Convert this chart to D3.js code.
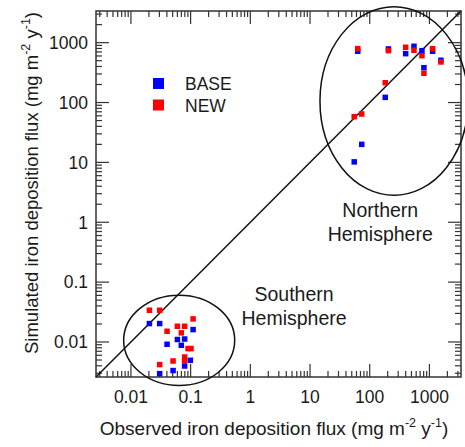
<!DOCTYPE html>
<html>
<head>
<meta charset="utf-8">
<script src="https://cdnjs.cloudflare.com/ajax/libs/d3/7.8.5/d3.min.js"></script>
<style>
body { margin: 0; background: #fff; }
text { font-family: "Liberation Sans", Arial, sans-serif; fill: #1a1a1a; }
</style>
</head>
<body>
<div id="chart"></div>
<script>
var w = 465;
var h = 447;

// observed vs simulated iron deposition (mg m-2 y-1)
var baseObs = [63, 206, 400, 551, 750, 1130, 1556, 809, 182, 55, 73.5,
  0.0204, 0.0303, 0.0403, 0.060, 0.0794, 0.0698, 0.11, 0.099, 0.0794, 0.0508, 0.0303];
var baseSim = [718, 785, 655, 871, 735, 718, 508, 382, 122, 10.2, 20,
  0.0203, 0.0203, 0.00916, 0.011, 0.0112, 0.0088, 0.0161, 0.00494, 0.00397, 0.00333, 0.00296];
var newObs = [63, 206, 400, 551, 750, 1130, 1556, 809, 182, 55, 73.5,
  0.0204, 0.0303, 0.0403, 0.060, 0.0794, 0.0698, 0.11, 0.0906, 0.1016, 0.0794, 0.0794, 0.0508, 0.0303];
var newSim = [794, 735, 838, 746, 606, 794, 476, 308, 214, 58, 64.3,
  0.0339, 0.0339, 0.0151, 0.0183, 0.0183, 0.0142, 0.0243, 0.00776, 0.00776, 0.00561, 0.00494, 0.00481, 0.00419];

var tickValues = [0.01, 0.1, 1, 10, 100, 1000];
var tickLabels = ["0.01", "0.1", "1", "10", "100", "1000"];
var seriesNames = ["BASE", "NEW"];
var regionNames = [["Northern", "Hemisphere"], ["Southern", "Hemisphere"]];

var svg = d3.select("#chart")
  .append("svg")
  .attr("width", w)
  .attr("height", h);

var x = d3.scaleLog().domain([0.0026, 3380]).range([96, 461]);
var y = d3.scaleLog().domain([0.0026, 3380]).range([377, 11]);

// minor + major ticks
var allTicks = [];
for (var e = -3; e <= 3; e++) {
  for (var m = 1; m <= 9; m++) {
    var v = m * Math.pow(10, e);
    if (v > 0.0026 && v < 3380) allTicks.push({v: v, major: m == 1});
  }
}
var tickLen = function(d) { return d.major ? 13 : 6; };

var ax = svg.append("g").attr("stroke", "#333").attr("stroke-width", 1.2);
// bottom and top
ax.selectAll("line.xb").data(allTicks).enter().append("line")
  .attr("x1", function(d) { return x(d.v); }).attr("x2", function(d) { return x(d.v); })
  .attr("y1", 377).attr("y2", function(d) { return 377 - tickLen(d); });
ax.selectAll("line.xt").data(allTicks).enter().append("line")
  .attr("x1", function(d) { return x(d.v); }).attr("x2", function(d) { return x(d.v); })
  .attr("y1", 11).attr("y2", function(d) { return 11 + tickLen(d); });
// left and right
ax.selectAll("line.yl").data(allTicks).enter().append("line")
  .attr("y1", function(d) { return y(d.v); }).attr("y2", function(d) { return y(d.v); })
  .attr("x1", 96).attr("x2", function(d) { return 96 + tickLen(d); });
ax.selectAll("line.yr").data(allTicks).enter().append("line")
  .attr("y1", function(d) { return y(d.v); }).attr("y2", function(d) { return y(d.v); })
  .attr("x1", 461).attr("x2", function(d) { return 461 - tickLen(d); });

svg.append("rect")
  .attr("x", 96).attr("y", 11).attr("width", 365).attr("height", 366)
  .attr("fill", "none").attr("stroke", "#333").attr("stroke-width", 1.5);

// tick labels
svg.selectAll("text.xl").data(tickValues).enter().append("text")
  .attr("x", function(d) { return x(d); }).attr("y", 403)
  .attr("text-anchor", "middle").attr("font-size", 17.5)
  .text(function(d, i) { return tickLabels[i]; });
svg.selectAll("text.yl").data(tickValues).enter().append("text")
  .attr("x", 88).attr("y", function(d) { return y(d); }).attr("dy", "0.36em")
  .attr("text-anchor", "end").attr("font-size", 17.5)
  .text(function(d, i) { return tickLabels[i]; });

// axis titles
function unitTitle(sel, label) {
  sel.append("tspan").text(label + " (mg m");
  sel.append("tspan").attr("font-size", 12.5).attr("dy", -8).text("-2");
  sel.append("tspan").attr("dy", 8).text(" y");
  sel.append("tspan").attr("font-size", 12.5).attr("dy", -8).text("-1");
  sel.append("tspan").attr("dy", 8).text(")");
}
var xt = svg.append("text").attr("x", 274).attr("y", 435)
  .attr("text-anchor", "middle").attr("font-size", 19);
unitTitle(xt, "Observed iron deposition flux");
var yt = svg.append("text").attr("transform", "translate(37.5,183) rotate(-90)")
  .attr("text-anchor", "middle").attr("font-size", 18.5);
unitTitle(yt, "Simulated iron deposition flux");

// 1:1 line
svg.append("line")
  .attr("x1", x(0.0026)).attr("y1", y(0.0026))
  .attr("x2", x(3380)).attr("y2", y(3380))
  .attr("stroke", "#111").attr("stroke-width", 1.5);

// hemisphere ellipses (centre in data units, radii in decades)
var regionCentres = [[255, 106], [0.0643, 0.01067]];
var regionRadii = [[1.24, 1.575], [0.93, 0.754]];
regionCentres.forEach(function(c, i) {
  var cx = x(c[0]), cy = y(c[1]);
  svg.append("ellipse")
    .attr("cx", cx).attr("cy", cy)
    .attr("rx", x(c[0] * Math.pow(10, regionRadii[i][0])) - cx)
    .attr("ry", cy - y(c[1] * Math.pow(10, regionRadii[i][1])))
    .attr("fill", "none").attr("stroke", "#111").attr("stroke-width", 1.5);
});

// region labels
var labelAt = [[150, 1.23], [5.4, 0.0485]];
labelAt.forEach(function(p, i) {
  var t = svg.append("text").attr("text-anchor", "middle").attr("font-size", 19.5);
  t.append("tspan").attr("x", x(p[0])).attr("y", y(p[1])).text(regionNames[i][0]);
  t.append("tspan").attr("x", x(p[0])).attr("dy", 24).text(regionNames[i][1]);
});

// points
var s = 5.5;
svg.selectAll("rect.base").data(d3.range(baseObs.length)).enter().append("rect")
  .attr("x", function(i) { return x(baseObs[i]) - s / 2; })
  .attr("y", function(i) { return y(baseSim[i]) - s / 2; })
  .attr("width", s).attr("height", s).attr("fill", "#0000ff");
svg.selectAll("rect.new").data(d3.range(newObs.length)).enter().append("rect")
  .attr("x", function(i) { return x(newObs[i]) - s / 2; })
  .attr("y", function(i) { return y(newSim[i]) - s / 2; })
  .attr("width", s).attr("height", s).attr("fill", "#ff0000");

// legend
var colors = ["#0000ff", "#ff0000"];
seriesNames.forEach(function(n, i) {
  svg.append("rect").attr("x", 153).attr("y", 78 + i * 21.5)
    .attr("width", 11).attr("height", 11).attr("fill", colors[i]);
  svg.append("text").attr("x", 185).attr("y", 90 + i * 21.5)
    .attr("font-size", 17.5).text(n);
});
</script>
</body>
</html>
